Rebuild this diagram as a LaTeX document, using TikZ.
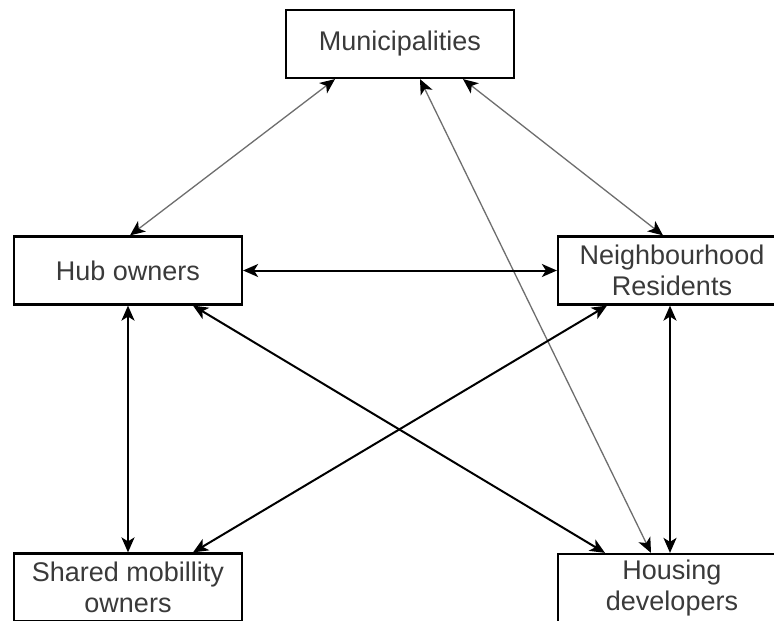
\documentclass[tikz,border=0pt]{standalone}
\usepackage{fontspec}
\setmainfont{Liberation Sans}
\usetikzlibrary{arrows.meta}
\definecolor{textgray}{HTML}{3A3A3A}
\definecolor{linegray}{HTML}{6E6E6E}
\begin{document}
\begin{tikzpicture}[x=1pt,y=-1pt,
  box/.style={draw=black, line width=2.2pt, fill=white, minimum width=228pt,
    minimum height=68pt, inner sep=0pt, align=center, text=textgray,
    font=\fontsize{27}{31}\selectfont},
  tip/.style={Stealth[length=15pt,width=13pt,inset=4pt,color=black]},
  boldlink/.style={draw=black, line width=2pt, {Stealth[length=15pt,width=13pt,inset=4pt]}-{Stealth[length=15pt,width=13pt,inset=4pt]}},
  greylink/.style={draw=linegray, line width=1.3pt, {Stealth[length=15pt,width=13pt,inset=4pt,color=black]}-{Stealth[length=15pt,width=13pt,inset=4pt,color=black]}}]
\useasboundingbox (0,0) rectangle (774,621);
\clip (0,0) rectangle (774,621);
\fill[white] (0,0) rectangle (774,621);

\node[box] (mun) at (400,44) {Municipalities};
\node[box] (hub) at (128,270.5) {Hub owners};
\node[box] (res) at (672,270.5) {Neighbourhood\\Residents};
\node[box] (sha) at (128,587.5) {Shared mobillity\\owners};
\node[box] (hou) at (672,588) {Housing\\developers};

\draw[greylink] ([xshift=-65pt]mun.south) -- ([xshift=2pt]hub.north);
\draw[greylink] ([xshift=63pt]mun.south) -- ([xshift=-9pt]res.north);
\draw[greylink] ([xshift=20pt]mun.south) -- ([xshift=-21pt]hou.north);

\draw[boldlink] (hub.east) -- (res.west);
\draw[boldlink] (hub.south) -- (sha.north);
\draw[boldlink] ([xshift=-2pt]res.south) -- ([xshift=-2pt]hou.north);
\draw[boldlink] ([xshift=65pt]hub.south) -- ([xshift=-67pt]hou.north);
\draw[boldlink] ([xshift=-65pt]res.south) -- ([xshift=65pt]sha.north);
\end{tikzpicture}
\end{document}
